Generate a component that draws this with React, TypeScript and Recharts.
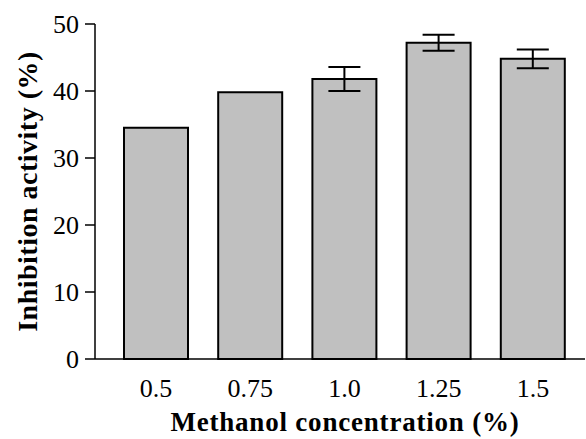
import React from 'react';
import { BarChart, Bar, XAxis, YAxis, ErrorBar, Label } from 'recharts';

// Methanol concentration (%) on the x-axis
const concentrations = ['0.5', '0.75', '1.0', '1.25', '1.5'];
// Mean inhibition activity (%)
const inhibition = [34.5, 39.8, 41.8, 47.2, 44.8];
// Standard deviation for each mean
const deviation = [0, 0, 1.8, 1.2, 1.4];
const yTicks = [0, 10, 20, 30, 40, 50];

const data = concentrations.map((c, i) => ({
  conc: c,
  value: inhibition[i],
  err: deviation[i],
}));

const FONT = "'Liberation Serif', 'Times New Roman', serif";
const TICK_SIZE = 26;

const XTick = (props: any) => {
  const { x, y, payload } = props;
  return (
    <text x={x} y={y} dy="0.71em" textAnchor="middle" fill="#000" style={{ fontSize: TICK_SIZE, fontFamily: FONT }}>
      {payload.value}
    </text>
  );
};

const YTick = (props: any) => {
  const { x, y, payload } = props;
  return (
    <text x={x} y={y} dy="0.355em" textAnchor="end" fill="#000" style={{ fontSize: TICK_SIZE, fontFamily: FONT }}>
      {payload.value}
    </text>
  );
};

export default function App() {
  return (
    <div style={{ position: 'absolute', left: 0, top: 0, background: '#fff' }}>
      <BarChart
        width={586}
        height={439}
        data={data}
        margin={{ top: 24, right: 1, bottom: 0, left: 0 }}
        barSize={64}
      >
        <XAxis
          dataKey="conc"
          padding={{ left: 14, right: 5 }}
          tickLine={false}
          axisLine={{ stroke: '#000', strokeWidth: 1.5 }}
          tick={<XTick />}
          tickMargin={14}
          height={80}
        >
          <Label
            value="Methanol concentration (%)"
            position="insideBottom"
            offset={8}
            dx={5}
            style={{ fill: '#000', fontSize: 27, fontWeight: 'bold', fontFamily: FONT, letterSpacing: 0.8 }}
          />
        </XAxis>
        <YAxis
          width={95}
          domain={[0, 50]}
          ticks={yTicks}
          interval={0}
          tickSize={10}
          tickLine={{ stroke: '#000', strokeWidth: 1.5 }}
          axisLine={{ stroke: '#000', strokeWidth: 1.5 }}
          tick={<YTick />}
          tickMargin={6}
        >
          <Label
            value="Inhibition activity (%)"
            angle={-90}
            position="insideLeft"
            offset={27}
            style={{ textAnchor: 'middle', fill: '#000', fontSize: 28, fontWeight: 'bold', fontFamily: FONT, letterSpacing: 0.5 }}
          />
        </YAxis>
        <Bar dataKey="value" fill="#c0c0c0" stroke="#000" strokeWidth={2} isAnimationActive={false}>
          <ErrorBar dataKey="err" width={16} stroke="#000" strokeWidth={2} isAnimationActive={false} />
        </Bar>
      </BarChart>
    </div>
  );
}
